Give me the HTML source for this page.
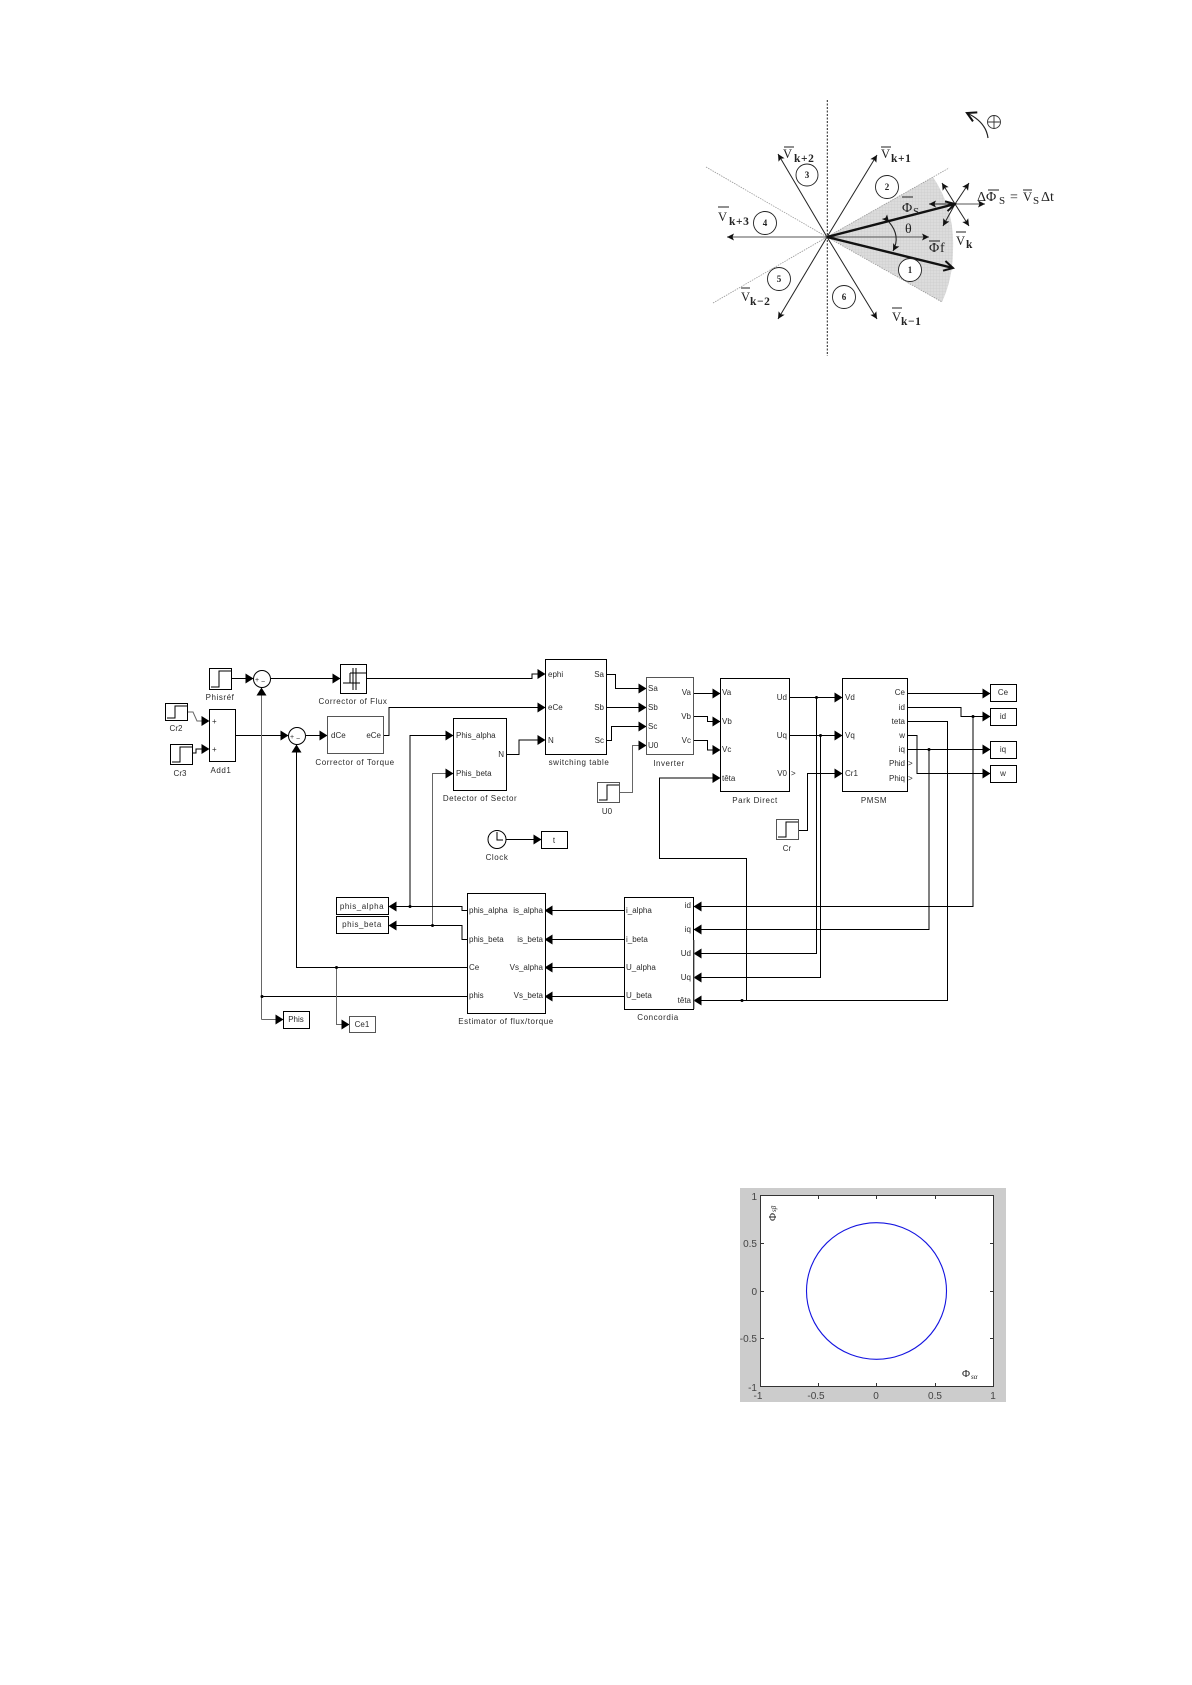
<!DOCTYPE html>
<html><head><meta charset="utf-8"><style>
html,body{margin:0;padding:0;background:#fff}
svg{display:block;filter:blur(.3px)}
.l{font-family:"Liberation Sans",sans-serif;font-size:8px;fill:#2a2a2a}
.cap{letter-spacing:.55px}
.c{text-anchor:middle}.r{text-anchor:end}
.s{font-family:"Liberation Serif",serif;fill:#222;font-size:14px}
.v{font-size:12.5px}
.b{font-size:11.5px;font-weight:bold;letter-spacing:.6px}
.n{font-family:"Liberation Serif",serif;font-size:9px;font-weight:bold;text-anchor:middle;fill:#222}
.t{font-family:"Liberation Sans",sans-serif;font-size:10px;fill:#444}
.w{fill:none;stroke:#000;stroke-width:1}
.g{fill:none;stroke:#666;stroke-width:1}
.k{fill:#fff;stroke:#000;stroke-width:1}
.kg{fill:#fff;stroke:#555;stroke-width:1}
</style></head><body>
<svg width="1192" height="1685" viewBox="0 0 1192 1685" xmlns="http://www.w3.org/2000/svg">
<defs>
<marker id="a" markerUnits="userSpaceOnUse" markerWidth="8" markerHeight="10" refX="7.5" refY="5" orient="auto"><path d="M0,0L8,5L0,10Z" fill="#000"/></marker>
<marker id="p" markerUnits="userSpaceOnUse" markerWidth="8" markerHeight="8" refX="7" refY="4" orient="auto"><path d="M0,.5L7,4L0,7.500L1.500,4Z" fill="#111"/></marker>
<marker id="h" markerUnits="userSpaceOnUse" markerWidth="12" markerHeight="12" refX="10" refY="6" orient="auto"><path d="M1,1L10,6L1,11" fill="none" stroke="#111" stroke-width="2"/></marker>
<pattern id="mesh" width="3" height="3" patternUnits="userSpaceOnUse"><rect width="3" height="3" fill="#dcdcdc"/><path d="M0,0H3M0,0V3" stroke="#c4c4c4" stroke-width=".5"/></pattern>
</defs>

<!-- Phasor diagram -->
<g>
<path d="M827.3,236.7L933,177Q955,210 953,250Q953,278 942,302Z" fill="url(#mesh)"/>
<g stroke="#999" stroke-width=".8" stroke-dasharray="1.5 1" fill="none">
<line x1="706" y1="167" x2="827" y2="237"/><line x1="713" y1="303" x2="827" y2="237"/><line x1="827" y1="237" x2="949" y2="168"/><line x1="827" y1="237" x2="942" y2="302"/>
</g>
<line x1="827.3" y1="100" x2="827.3" y2="356" stroke="#222" stroke-width="1" stroke-dasharray="2 1.5"/>
<g fill="none" stroke="#222" stroke-width="1">
<line x1="827" y1="237" x2="778" y2="154" marker-end="url(#p)"/>
<line x1="827" y1="237" x2="877" y2="155" marker-end="url(#p)"/>
<line x1="827" y1="237" x2="778" y2="319" marker-end="url(#p)"/>
<line x1="827" y1="237" x2="877" y2="319" marker-end="url(#p)"/>
<line x1="827" y1="237" x2="727" y2="237" stroke="#555" marker-end="url(#p)"/>
<line x1="827" y1="237" x2="929" y2="237" stroke="#555" marker-end="url(#p)"/>
<line x1="955" y1="204" x2="985" y2="204" stroke="#555" marker-end="url(#p)"/>
<line x1="955" y1="204" x2="929" y2="204" marker-end="url(#p)"/>
<line x1="955" y1="204" x2="942" y2="183" marker-end="url(#p)"/>
<line x1="955" y1="204" x2="969" y2="183" marker-end="url(#p)"/>
<line x1="955" y1="204" x2="943" y2="226" marker-end="url(#p)"/>
<line x1="955" y1="204" x2="969" y2="226" marker-end="url(#p)"/>
<line x1="827" y1="237" x2="955" y2="204" stroke="#111" stroke-width="2.4" marker-end="url(#h)"/>
<line x1="827" y1="237" x2="953" y2="268" stroke="#111" stroke-width="2.4" marker-end="url(#h)"/>
<path d="M889,222Q901,236 893,251" stroke-width="1.1" marker-start="url(#p)" marker-end="url(#p)"/>
<path d="M988,138Q986,122 967,113" stroke-width="1.2" marker-end="url(#h)"/>
</g>
<g fill="#fff" stroke="#222" stroke-width=".9">
<circle cx="807" cy="175" r="11"/><circle cx="887" cy="187" r="11.5"/><circle cx="765" cy="223" r="11.5"/><circle cx="910" cy="270" r="11.5"/><circle cx="779" cy="279" r="11.5"/><circle cx="844" cy="297" r="11.5"/>
</g>
<text class="n" x="807" y="178">3</text><text class="n" x="887" y="190">2</text><text class="n" x="765" y="226">4</text><text class="n" x="910" y="273">1</text><text class="n" x="779" y="282">5</text><text class="n" x="844" y="300">6</text>
<g fill="none" stroke="#333" stroke-width=".9"><circle cx="994" cy="122" r="6.5"/><path d="M987.500,122H1000.500M994,115.500V128.500"/></g>

<g stroke="#222" stroke-width="1">
<line x1="784" y1="147" x2="794" y2="147"/><line x1="881" y1="147" x2="891" y2="147"/><line x1="718" y1="207" x2="729" y2="207"/><line x1="741" y1="288" x2="750" y2="288"/><line x1="892" y1="308" x2="902" y2="308"/><line x1="956" y1="232" x2="966" y2="232"/><line x1="902" y1="197" x2="913" y2="197"/><line x1="929" y1="241" x2="940" y2="241"/><line x1="988" y1="190" x2="999" y2="190"/><line x1="1023" y1="190" x2="1032" y2="190"/>
</g>
<text class="s v" x="783" y="158">V</text><text class="s b" x="794" y="162">k+2</text>
<text class="s v" x="881" y="158">V</text><text class="s b" x="891" y="162">k+1</text>
<text class="s v" x="718" y="221">V</text><text class="s b" x="729" y="225">k+3</text>
<text class="s v" x="741" y="301">V</text><text class="s b" x="750" y="305">k−2</text>
<text class="s v" x="892" y="321">V</text><text class="s b" x="901" y="325">k−1</text>
<text class="s v" x="956" y="245">V</text><text class="s b" x="966" y="248">k</text>
<text class="s" x="902" y="212">Φ</text><text class="s" style="font-size:11px" x="913" y="215">S</text>
<text class="s" x="929" y="252">Φ</text><text class="s" x="940" y="252">f</text>
<text class="s" x="905" y="233">θ</text>
<text class="s" x="977" y="201">ΔΦ</text><text class="s" style="font-size:11px" x="999" y="204">S</text><text class="s" x="1010" y="201">=</text><text class="s v" x="1023" y="201">V</text><text class="s" style="font-size:11px" x="1033" y="204">S</text><text class="s" x="1041" y="201">Δt</text>
</g>

<!-- Simulink wires -->
<g class="wires">
<polyline class="w" points="232,678.500 253,678.500" marker-end="url(#a)"/>
<polyline class="w" points="271,678.500 340,678.500" marker-end="url(#a)"/>
<polyline class="w" points="367,678.500 532,678.500 532,674 545,674" marker-end="url(#a)"/>
<polyline class="g" points="188,712 193,712 197,721 209,721" marker-end="url(#a)" />
<polyline class="w" points="193,753 196,753 196,749 209,749" marker-end="url(#a)"/>
<polyline class="w" points="236,735.500 288,735.500" marker-end="url(#a)"/>
<polyline class="w" points="306,735.500 327,735.500" marker-end="url(#a)"/>
<polyline class="w" points="384,735.500 389,735.500 389,707.500 545,707.500" marker-end="url(#a)"/>
<polyline class="w" points="507,754.500 519,754.500 519,740 545,740" marker-end="url(#a)"/>
<polyline class="w" points="410,906.500 410,735.500 453,735.500" marker-end="url(#a)"/>
<polyline class="g" points="432.500,925.500 432.500,773.500 453,773.500" marker-end="url(#a)"/>
<polyline class="w" points="506,839.500 541,839.500" marker-end="url(#a)"/>
<polyline class="w" points="467,910.500 462,910.500 462,906.500 389,906.500" marker-end="url(#a)"/>
<polyline class="w" points="467,939.500 462,939.500 462,925.500 389,925.500" marker-end="url(#a)"/>
<polyline class="w" points="467,967.500 296.500,967.500 296.500,745" marker-end="url(#a)"/>
<polyline class="w" points="467,996.500 262,996.500"/>
<polyline class="g" points="261.500,1019.500 261.500,688" marker-end="url(#a)"/>
<polyline class="g" points="261.500,1019.500 283,1019.500" marker-end="url(#a)"/>
<polyline class="g" points="336.500,967.500 336.500,1024.500 349,1024.500" marker-end="url(#a)"/>
<polyline class="w" points="624,910.500 545,910.500" marker-end="url(#a)"/>
<polyline class="w" points="624,939.500 545,939.500" marker-end="url(#a)"/>
<polyline class="w" points="624,967.500 545,967.500" marker-end="url(#a)"/>
<polyline class="w" points="624,996.500 545,996.500" marker-end="url(#a)"/>
<polyline class="w" points="607,674.500 615.500,674.500 615.500,688.500 646,688.500" marker-end="url(#a)"/>
<polyline class="w" points="607,707.500 646,707.500" marker-end="url(#a)"/>
<polyline class="w" points="607,740.500 611.500,740.500 611.500,726.500 646,726.500" marker-end="url(#a)"/>
<polyline class="g" points="620,792.500 632.500,792.500 632.500,745.500 646,745.500" marker-end="url(#a)"/>
<polyline class="w" points="694,693.500 720,693.500" marker-end="url(#a)"/>
<polyline class="w" points="694,716.500 707.500,716.500 707.500,721.500 720,721.500" marker-end="url(#a)"/>
<polyline class="w" points="694,740.500 707.500,740.500 707.500,750 720,750" marker-end="url(#a)"/>
<polyline class="w" points="746.500,1000.500 746.500,858.500 659.500,858.500 659.500,778 720,778" marker-end="url(#a)"/>
<polyline class="w" points="790,697.500 842,697.500" marker-end="url(#a)"/>
<polyline class="w" points="790,735.500 842,735.500" marker-end="url(#a)"/>
<polyline class="w" points="799,830.500 807.500,830.500 807.500,773.500 842,773.500" marker-end="url(#a)"/>
<polyline class="w" points="816.500,697.500 816.500,953.500 694,953.500" marker-end="url(#a)"/>
<polyline class="w" points="820.500,735.500 820.500,977.500 694,977.500" marker-end="url(#a)"/>
<polyline class="w" points="908,693.500 990,693.500" marker-end="url(#a)"/>
<polyline class="w" points="908,707.500 961,707.500 961,716.500 990,716.500" marker-end="url(#a)"/>
<polyline class="w" points="908,721.500 947.500,721.500 947.500,1000.500 694,1000.500" marker-end="url(#a)"/>
<polyline class="w" points="908,735.500 917,735.500 917,773.500 990,773.500" marker-end="url(#a)"/>
<polyline class="w" points="908,749.500 990,749.500" marker-end="url(#a)"/>
<polyline class="w" points="973,716.500 973,906.500 694,906.500" marker-end="url(#a)"/>
<polyline class="w" points="929,749.500 929,929.500 694,929.500" marker-end="url(#a)"/>
</g>
<g fill="#000">
<circle cx="410" cy="906.500" r="1.500"/><circle cx="432.500" cy="925.500" r="1.500"/><circle cx="336.500" cy="967.500" r="1.500"/><circle cx="262" cy="996.500" r="1.500"/><circle cx="742" cy="1000.500" r="1.500"/><circle cx="816.500" cy="697.500" r="1.500"/><circle cx="820.500" cy="735.500" r="1.500"/><circle cx="973" cy="716.500" r="1.500"/><circle cx="929" cy="749.500" r="1.500"/>
</g>

<!-- Blocks -->
<rect class="k" x="209.500" y="668.500" width="22" height="21"/><path class="w" d="M211,687H219V671H231"/>
<circle class="k" cx="262" cy="679" r="8.500"/><text class="l" x="255" y="682" style="font-size:7px">+</text><text class="l" x="261" y="684" style="font-size:7px">−</text>
<rect class="k" x="340.500" y="664.500" width="26" height="29"/><path class="w" d="M343,683H360M350,673H366M353,668V690M356,668V690M350,673V683"/>
<rect class="k" x="165.500" y="703.500" width="22" height="17"/><path class="w" d="M167,718H175V706H187"/>
<rect class="k" x="170.500" y="744.500" width="22" height="20"/><path class="w" d="M172,762H180V747H192"/>
<rect class="k" x="209.500" y="709.500" width="26" height="52"/><text class="l" x="212" y="724">+</text><text class="l" x="212" y="752">+</text>
<circle class="k" cx="297" cy="736" r="8.500"/><text class="l" x="290" y="739" style="font-size:7px">+</text><text class="l" x="296" y="741" style="font-size:7px">−</text>
<rect class="kg" x="327.500" y="716.500" width="56" height="37"/>
<rect class="k" x="453.500" y="718.500" width="53" height="72"/>
<rect class="k" x="545.500" y="659.500" width="61" height="95"/>
<rect class="kg" x="646.500" y="677.500" width="47" height="77"/>
<rect class="k" x="720.500" y="678.500" width="69" height="113"/>
<rect class="k" x="842.500" y="678.500" width="65" height="113"/>
<rect class="k" x="990.500" y="684.500" width="26" height="17"/>
<rect class="k" x="990.500" y="708.500" width="26" height="17"/>
<rect class="k" x="990.500" y="741.500" width="26" height="17"/>
<rect class="k" x="990.500" y="765.500" width="26" height="17"/>
<rect class="kg" x="597.500" y="782.500" width="22" height="20"/><path class="w" d="M599,800H607V785H619"/>
<rect class="kg" x="776.500" y="819.500" width="22" height="20"/><path class="w" d="M778,837H786V822H798"/>
<circle class="k" cx="497" cy="839.500" r="9"/><path class="w" d="M497,832V840H503"/>
<rect class="k" x="541.500" y="831.500" width="26" height="17"/>
<rect class="k" x="336.500" y="897.500" width="52" height="17"/>
<rect class="k" x="336.500" y="916.500" width="52" height="17"/>
<rect class="k" x="467.500" y="893.500" width="78" height="120"/>
<rect class="k" x="624.500" y="897.500" width="69" height="112"/><line x1="694" y1="940" x2="694" y2="1009" stroke="#666"/>
<rect class="k" x="283.500" y="1011.500" width="26" height="17"/>
<rect class="kg" x="349.500" y="1016.500" width="26" height="16"/>

<!-- Labels -->
<g>
<text class="l c cap" x="220" y="700">Phisréf</text><text class="l c cap" x="353" y="704">Corrector of Flux</text>
<text class="l c" x="176" y="731">Cr2</text><text class="l c" x="180" y="776">Cr3</text><text class="l c cap" x="221" y="773">Add1</text>
<text class="l c cap" x="355" y="765">Corrector of Torque</text><text class="l c cap" x="480" y="801">Detector of Sector</text>
<text class="l c cap" x="497" y="860">Clock</text><text class="l c" x="554" y="843">t</text>
<text class="l c cap" x="579" y="765">switching table</text><text class="l c cap" x="669" y="766">Inverter</text><text class="l c" x="607" y="814">U0</text>
<text class="l c cap" x="755" y="803">Park Direct</text><text class="l c cap" x="874" y="803">PMSM</text><text class="l c" x="787" y="851">Cr</text>
<text class="l" x="331" y="738">dCe</text><text class="l r" x="381" y="738">eCe</text>
<text class="l" x="456" y="738">Phis_alpha</text><text class="l" x="456" y="776">Phis_beta</text><text class="l r" x="504" y="757">N</text>
<text class="l" x="548" y="677">ephi</text><text class="l" x="548" y="710">eCe</text><text class="l" x="548" y="743">N</text>
<text class="l r" x="604" y="677">Sa</text><text class="l r" x="604" y="710">Sb</text><text class="l r" x="604" y="743">Sc</text>
<text class="l" x="648" y="691">Sa</text><text class="l" x="648" y="710">Sb</text><text class="l" x="648" y="729">Sc</text><text class="l" x="648" y="748">U0</text>
<text class="l r" x="691" y="695">Va</text><text class="l r" x="691" y="719">Vb</text><text class="l r" x="691" y="743">Vc</text>
<text class="l" x="722" y="695">Va</text><text class="l" x="722" y="724">Vb</text><text class="l" x="722" y="752">Vc</text><text class="l" x="722" y="781">têta</text>
<text class="l r" x="787" y="700">Ud</text><text class="l r" x="787" y="738">Uq</text><text class="l r" x="787" y="776">V0</text><text class="l" x="791" y="776">&gt;</text>
<text class="l" x="845" y="700">Vd</text><text class="l" x="845" y="738">Vq</text><text class="l" x="845" y="776">Cr1</text>
<text class="l r" x="905" y="695">Ce</text><text class="l r" x="905" y="710">id</text><text class="l r" x="905" y="724">teta</text><text class="l r" x="905" y="738">w</text><text class="l r" x="905" y="752">iq</text><text class="l r" x="905" y="766">Phid</text><text class="l r" x="905" y="781">Phiq</text><text class="l" x="908" y="766">&gt;</text><text class="l" x="908" y="781">&gt;</text>
<text class="l c" x="1003" y="695">Ce</text><text class="l c" x="1003" y="719">id</text><text class="l c" x="1003" y="752">iq</text><text class="l c" x="1003" y="776">w</text>
<text class="l c cap" x="362" y="909">phis_alpha</text><text class="l c cap" x="362" y="927">phis_beta</text>
<text class="l" x="469" y="913">phis_alpha</text><text class="l" x="469" y="942">phis_beta</text><text class="l" x="469" y="970">Ce</text><text class="l" x="469" y="998">phis</text>
<text class="l r" x="543" y="913">is_alpha</text><text class="l r" x="543" y="942">is_beta</text><text class="l r" x="543" y="970">Vs_alpha</text><text class="l r" x="543" y="998">Vs_beta</text>
<text class="l c cap" x="506" y="1024">Estimator of flux/torque</text>
<text class="l" x="626" y="913">i_alpha</text><text class="l" x="626" y="942">i_beta</text><text class="l" x="626" y="970">U_alpha</text><text class="l" x="626" y="998">U_beta</text>
<text class="l r" x="691" y="908">id</text><text class="l r" x="691" y="932">iq</text><text class="l r" x="691" y="956">Ud</text><text class="l r" x="691" y="980">Uq</text><text class="l r" x="691" y="1003">têta</text>
<text class="l c cap" x="658" y="1020">Concordia</text>
<text class="l c" x="296" y="1022">Phis</text><text class="l c" x="362" y="1027">Ce1</text>
</g>

<!-- Plot -->
<rect x="740" y="1188" width="266" height="214" fill="#cccccc"/>
<rect x="760.500" y="1195.500" width="233" height="191" fill="#fff" stroke="#333" stroke-width="1"/>
<g stroke="#333" stroke-width="1">
<path d="M818.500,1386V1383M876.500,1386V1383M935.500,1386V1383M818.500,1196V1199M876.500,1196V1199M935.500,1196V1199M761,1243.500H764M761,1291.500H764M761,1338.500H764M993,1243.500H990M993,1291.500H990M993,1338.500H990"/>
</g>
<ellipse cx="876.500" cy="1291" rx="70" ry="68.300" fill="none" stroke="#1414e0" stroke-width="1.100"/>
<g class="t">
<text class="t" text-anchor="end" x="757" y="1200">1</text><text class="t" text-anchor="end" x="757" y="1247">0.5</text><text class="t" text-anchor="end" x="757" y="1295">0</text><text class="t" text-anchor="end" x="757" y="1342">-0.5</text><text class="t" text-anchor="end" x="757" y="1391">-1</text>
<text class="t" text-anchor="middle" x="758" y="1399">-1</text><text class="t" text-anchor="middle" x="816" y="1399">-0.5</text><text class="t" text-anchor="middle" x="876" y="1399">0</text><text class="t" text-anchor="middle" x="935" y="1399">0.5</text><text class="t" text-anchor="middle" x="993" y="1399">1</text>
</g>
<text class="s" style="font-size:11px" x="962" y="1377">Φ</text><text class="s" style="font-size:7px;font-style:italic" x="971" y="1379">sα</text>
<g transform="translate(776,1221) rotate(-90)"><text class="s" style="font-size:11px" x="0" y="0">Φ</text><text class="s" style="font-size:7px;font-style:italic" x="9" y="0">sβ</text></g>
</svg>
</body></html>
